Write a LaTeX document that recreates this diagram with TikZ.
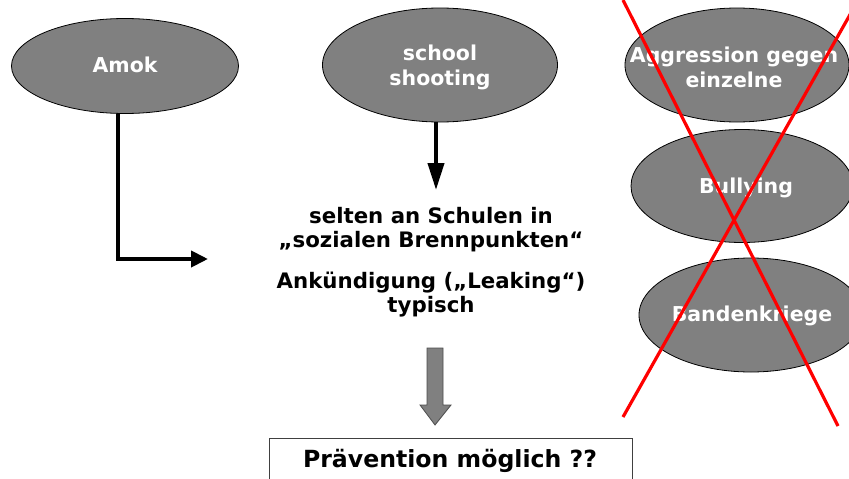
\documentclass[tikz,border=0pt]{standalone}
\usepackage{fontspec}
\setmainfont{DejaVu Sans}
\usetikzlibrary{shapes.geometric,arrows.meta}
\definecolor{ovalgray}{HTML}{808080}
\definecolor{xred}{HTML}{FF0000}
\tikzset{
  oval/.style={ellipse, draw=black, line width=0.8pt, fill=ovalgray, inner sep=0pt},
  ovaltext/.style={text=white, font=\bfseries\fontsize{20.5}{25}\selectfont, align=center, inner sep=0pt},
  bodytext/.style={text=black, font=\bfseries\fontsize{21.3}{24}\selectfont, align=center, inner sep=0pt},
  thickarrow/.style={line width=4pt, draw=black},
  crossline/.style={line width=3.2pt, draw=xred},
  blockarrow/.style={fill=ovalgray, draw=black!70, line width=0.8pt},
  resultbox/.style={draw=black!75, line width=1pt, fill=white, minimum width=363pt, minimum height=60pt, anchor=north west, inner sep=0pt},
  resulttext/.style={font=\bfseries\fontsize{23.6}{28}\selectfont, inner sep=0pt}
}
\begin{document}
\begin{tikzpicture}[x=1pt,y=-1pt]
\useasboundingbox (0,0) rectangle (849,479);
% ovals
\node[oval, minimum width=227pt, minimum height=95pt] (amok) at (125,66) {};
\node[ovaltext] (amokt) at (125,65) {Amok};
\node[oval, minimum width=235pt, minimum height=114pt] (school) at (440,65) {};
\node[ovaltext] (schoolt) at (440,67) {school\\shooting};
\node[oval, minimum width=224pt, minimum height=114pt] (aggr) at (737,65) {};
\node[ovaltext] (aggrt) at (734,67) {Aggression gegen\\einzelne};
\node[oval, minimum width=222pt, minimum height=113pt] (bully) at (742,186) {};
\node[ovaltext] (bullyt) at (746,188) {Bullying};
\node[oval, minimum width=224pt, minimum height=114pt] (bande) at (751,315) {};
\node[ovaltext] (bandet) at (752,316) {Bandenkriege};
% middle text
\node[bodytext] (t1) at (431,230) {selten an Schulen in\\„sozialen Brennpunkten“};
\node[bodytext] (t2) at (431,295) {Ankündigung („Leaking“)\\typisch};
% arrows
\coordinate (amokturn) at (118,259);
\coordinate (amoktip) at (208,259);
\draw[thickarrow, -{Triangle[length=17pt,width=16pt]}] (amok.south -| amokturn) -- (amokturn) -- (amoktip);
\coordinate (schooltip) at (436,190);
\draw[thickarrow, -{Triangle[length=27pt,width=16pt]}] (school.south -| schooltip) -- (schooltip);
% block arrow
\draw[blockarrow] (427,348) -- (443,348) -- (443,405) -- (451,405) -- (435,425) -- (420,405) -- (427,405) -- cycle;
% result box
\node[resultbox] (box) at (269,438) {};
\node[resulttext] (boxt) at (450,461) {Prävention möglich ??};
% red cross
\coordinate (c1a) at (623,0);
\coordinate (c1b) at (838,426);
\coordinate (c2a) at (623,417);
\coordinate (c2b) at (856,4);
\draw[crossline] (c1a) -- (c1b);
\draw[crossline] (c2a) -- (c2b);
\end{tikzpicture}
\end{document}
